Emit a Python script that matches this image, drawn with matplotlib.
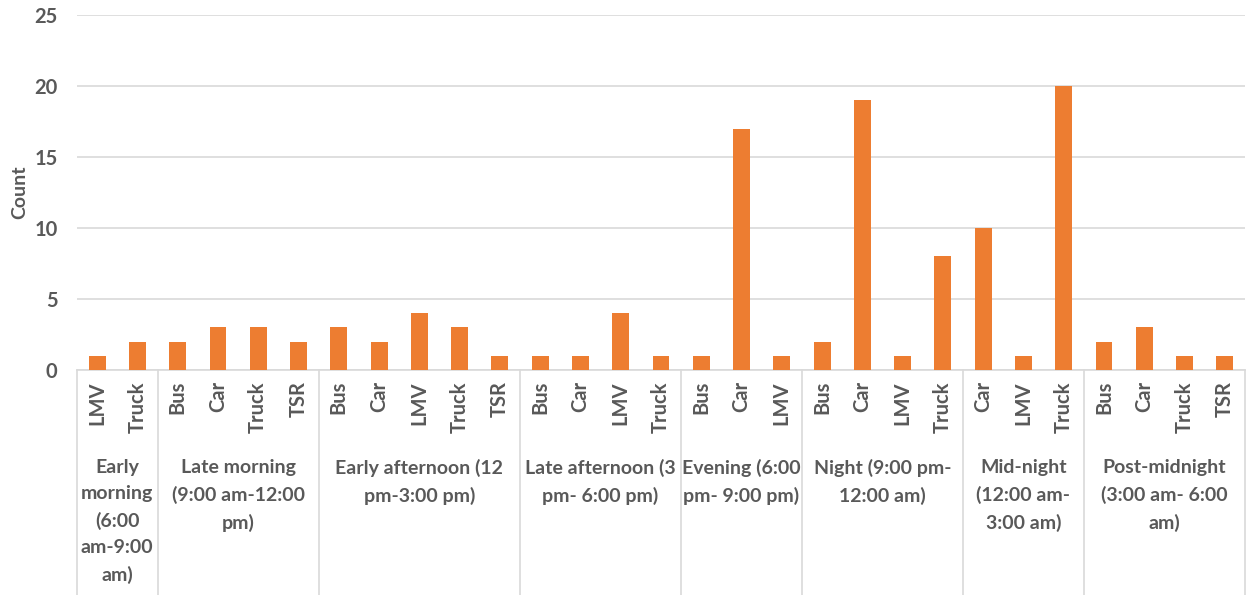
import matplotlib
matplotlib.use("Agg")
import matplotlib.pyplot as plt
import matplotlib.transforms as mtransforms
import numpy as np

# time-of-day groups and the vehicle types counted in each
groups = [
    "Early\nmorning\n(6:00\nam-9:00\nam)",
    "Late morning\n(9:00 am-12:00\npm)",
    "Early afternoon (12\npm-3:00 pm)",
    "Late afternoon (3\npm- 6:00 pm)",
    "Evening (6:00\npm- 9:00 pm)",
    "Night (9:00 pm-\n12:00 am)",
    "Mid-night\n(12:00 am-\n3:00 am)",
    "Post-midnight\n(3:00 am- 6:00\nam)",
]
vehicles = [
    ["LMV", "Truck"],
    ["Bus", "Car", "Truck", "TSR"],
    ["Bus", "Car", "LMV", "Truck", "TSR"],
    ["Bus", "Car", "LMV", "Truck"],
    ["Bus", "Car", "LMV"],
    ["Bus", "Car", "LMV", "Truck"],
    ["Car", "LMV", "Truck"],
    ["Bus", "Car", "Truck", "TSR"],
]
counts = [
    [1, 2],
    [2, 3, 3, 2],
    [3, 2, 4, 3, 1],
    [1, 1, 4, 1],
    [1, 17, 1],
    [2, 19, 1, 8],
    [10, 1, 20],
    [2, 3, 1, 1],
]

text_col = "#595959"
line_col = "#D9D9D9"
bar_col = "#ED7D31"
font = "Lato"

labels = [v for g in vehicles for v in g]
values = [c for g in counts for c in g]
x = np.arange(len(values))

fig = plt.figure(figsize=(12.49, 5.95), dpi=100)
ax = fig.add_axes([77 / 1249, 225 / 595, 1168 / 1249, 355 / 595])

ax.bar(x, values, width=0.42, color=bar_col, zorder=3)

ax.set_xlim(-0.5, len(values) - 0.5)
ax.set_ylim(0, 25)
ax.set_yticks([0, 5, 10, 15, 20, 25])
ax.yaxis.grid(True, color=line_col, linewidth=1.2, zorder=0)
for s in ["top", "right", "left"]:
    ax.spines[s].set_visible(False)
ax.spines["bottom"].set_color(line_col)
ax.spines["bottom"].set_linewidth(1.2)

ax.set_xticks(x)
ax.set_xticklabels(labels, rotation=90, va="top", ha="center")
ax.tick_params(axis="x", length=0, pad=8)
ax.tick_params(axis="y", length=0, pad=14)
for t in ax.get_xticklabels() + ax.get_yticklabels():
    t.set_fontfamily(font)
    t.set_fontweight("bold")
    t.set_color(text_col)
    t.set_fontsize(14.5)

ax.set_ylabel("Count", fontfamily=font, fontweight="bold", color=text_col,
              fontsize=14, labelpad=4)

# group separators and group captions beneath the vehicle labels
trans = mtransforms.blended_transform_factory(ax.transData, ax.transAxes)
start = 0
edges = [-0.5]
for g, veh in zip(groups, vehicles):
    end = start + len(veh)
    edges.append(end - 0.5)
    mid = (start + end - 1) / 2
    ax.text(mid, -0.25, g, transform=trans, ha="center", va="top",
            fontfamily=font, fontweight="bold", color=text_col,
            fontsize=14, linespacing=1.65, multialignment="center")
    start = end
for e in edges:
    ax.plot([e, e], [0, -0.64], transform=trans, color=line_col,
            linewidth=1.2, clip_on=False)

fig.savefig("out.png", dpi=100)
